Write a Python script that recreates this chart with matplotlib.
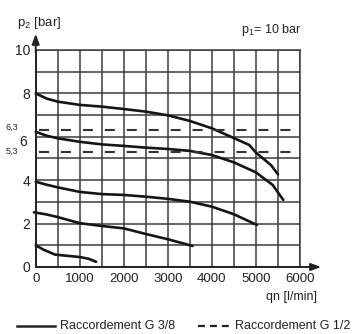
import matplotlib
matplotlib.use("Agg")
import matplotlib.pyplot as plt
from matplotlib.lines import Line2D

plt.rcParams['font.family'] = ['Liberation Sans', 'DejaVu Sans']
plt.rcParams['mathtext.default'] = 'regular'
plt.rcParams['lines.scale_dashes'] = False

# flow qn [l/min] vs outlet pressure p2 [bar], connection G 3/8 (p1 = 10 bar)
q_a = [0, 250, 500, 1000, 1500, 2000, 2500, 3000, 3500, 4000, 4500, 4850, 5000, 5340, 5500]
p_a = [8.0, 7.76, 7.62, 7.47, 7.39, 7.28, 7.16, 6.99, 6.73, 6.39, 5.94, 5.62, 5.27, 4.7, 4.27]

q_b = [0, 250, 500, 1000, 1500, 2000, 2500, 3000, 3500, 4000, 4500, 5000, 5380, 5620]
p_b = [6.23, 6.05, 5.93, 5.77, 5.65, 5.58, 5.5, 5.44, 5.35, 5.16, 4.82, 4.36, 3.78, 3.09]

q_c = [0, 250, 500, 1000, 1500, 2000, 2500, 3000, 3500, 4000, 4500, 5020]
p_c = [3.93, 3.79, 3.67, 3.46, 3.36, 3.32, 3.24, 3.14, 3.01, 2.78, 2.43, 1.94]

q_d = [-40, 250, 500, 1000, 1500, 2000, 2500, 3000, 3560]
p_d = [2.52, 2.42, 2.3, 2.02, 1.89, 1.78, 1.52, 1.28, 0.97]

q_e = [0, 175, 440, 1000, 1200, 1370]
p_e = [1.0, 0.8, 0.57, 0.46, 0.38, 0.24]

# G 1/2 reference levels (dashed)
p_half = [6.3, 5.3]
q_half = [75, 5790]

x_ticks = [0, 1000, 2000, 3000, 4000, 5000, 6000]
y_ticks = [0, 2, 4, 8, 10]

fig = plt.figure(figsize=(3.55, 3.34), dpi=100)
ax = fig.add_axes([0.1006, 0.2006, 0.7445, 0.6497])

ax.set_xlim(0, 6000)
ax.set_ylim(0, 10)
ax.set_xticks(x_ticks)
ax.set_xticks(range(0, 6001, 500), minor=True)
ax.set_yticks(y_ticks)
ax.set_yticks(range(0, 11), minor=True)
ax.tick_params(which='both', length=0)
ax.tick_params(axis='x', pad=4, labelsize=9.5, labelcolor='#222222')
ax.tick_params(axis='y', pad=4, labelsize=10, labelcolor='#222222')
ax.grid(which='both', color='#3c3c3c', lw=1.1)
ax.set_axisbelow(True)

for s in ['top', 'right']:
    ax.spines[s].set_color('#3c3c3c')
    ax.spines[s].set_linewidth(1.1)
for s in ['left', 'bottom']:
    ax.spines[s].set_color('#222222')
    ax.spines[s].set_linewidth(1.4)

# axis arrows
ax.annotate('', xy=(0, 1.075), xytext=(0, 0.99), xycoords='axes fraction',
            arrowprops=dict(arrowstyle='-|>,head_length=0.6,head_width=0.22',
                            lw=1.4, color='#222222', shrinkA=0, shrinkB=0))
ax.annotate('', xy=(1.08, 0), xytext=(0.99, 0), xycoords='axes fraction',
            arrowprops=dict(arrowstyle='-|>,head_length=0.6,head_width=0.22',
                            lw=1.4, color='#222222', shrinkA=0, shrinkB=0))

for q, p in [(q_a, p_a), (q_b, p_b), (q_c, p_c), (q_d, p_d), (q_e, p_e)]:
    ax.plot(q, p, color='#151515', lw=1.9, solid_joinstyle='round',
            solid_capstyle='round', clip_on=False)

for p in p_half:
    ax.plot(q_half, [p, p], color='#333333', lw=1.5, dashes=(7.2, 8.6))

# special y labels
ytr = ax.get_yaxis_transform()
ax.text(-0.033, 5.76, '6', transform=ytr, ha='right', va='center',
        fontsize=10, color='#222222')
ax.text(-0.067, 6.45, '6,3', transform=ytr, ha='right', va='center',
        fontsize=6.5, color='#222222')
ax.text(-0.067, 5.31, '5,3', transform=ytr, ha='right', va='center',
        fontsize=6.5, color='#222222')

fig.text(17 / 355, 1 - 23 / 334, 'p$_2$ [bar]', ha='left', va='center',
         fontsize=9.5, color='#222222')
fig.text(301 / 355, 1 - 30 / 334, 'p$_1$= 10 bar', ha='right', va='center',
         fontsize=9, color='#222222')
fig.text(317 / 355, 1 - 297 / 334, 'qn [l/min]', ha='right', va='center',
         fontsize=9, color='#222222')

# legend
ly = 1 - 326 / 334
fig.add_artist(Line2D([17 / 355, 55 / 355], [ly, ly], transform=fig.transFigure,
                      color='#222222', lw=1.8))
fig.text(60 / 355, ly, 'Raccordement G 3/8', ha='left', va='center',
         fontsize=9, color='#222222')
fig.add_artist(Line2D([198 / 355, 230 / 355], [ly, ly], transform=fig.transFigure,
                      color='#222222', lw=1.6, dashes=(5, 3.6)))
fig.text(235 / 355, ly, 'Raccordement G 1/2', ha='left', va='center',
         fontsize=9, color='#222222')

fig.savefig('out.png', dpi=100)
